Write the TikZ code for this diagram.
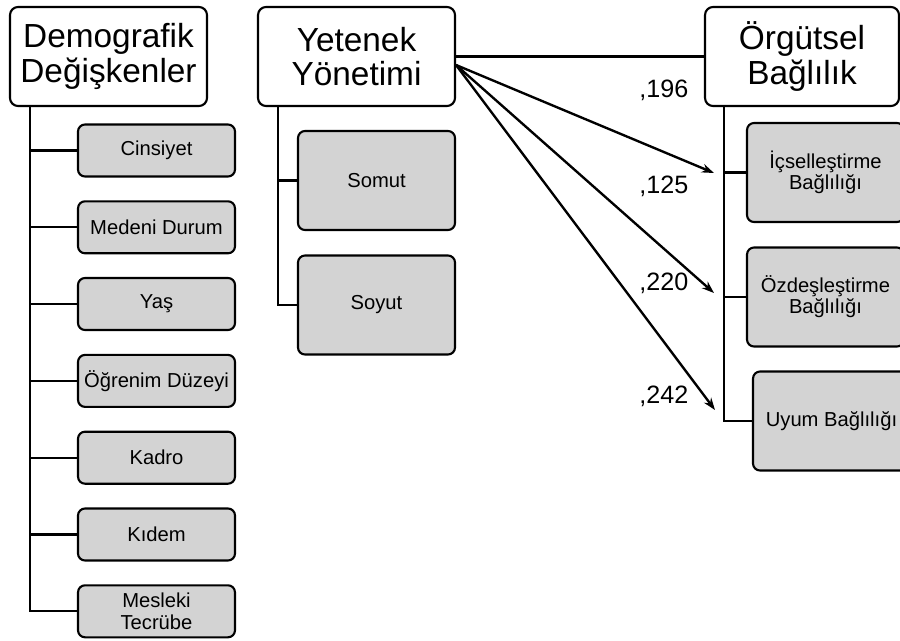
\documentclass[tikz,border=0pt]{standalone}
\usepackage{fontspec}
\setmainfont{Liberation Sans}
\usepackage{xcolor}
\usetikzlibrary{positioning, arrows.meta}
\definecolor{boxgray}{HTML}{D3D3D3}

\begin{document}
\begin{tikzpicture}[
    x=0.02cm, y=-0.02cm,
    headbox/.style={rectangle, rounded corners=0.16cm, draw, line width=1.2pt, fill=white, align=center,
        minimum width=3.94cm, minimum height=1.98cm, inner sep=0pt, font=\fontsize{19}{19.5}\selectfont},
    subbox/.style={rectangle, rounded corners=0.14cm, draw, line width=1.2pt, fill=boxgray, align=center,
        minimum width=3.14cm, minimum height=1.04cm, inner sep=0pt, font=\fontsize{11.5}{12}\selectfont},
    tallbox/.style={subbox, minimum height=1.98cm},
    link/.style={line width=1.35pt},
    effect/.style={link, -{Stealth[length=7pt, width=5pt]}},
    coef/.style={anchor=base west, inner sep=0pt, font=\fontsize{14.3}{16}\selectfont}
]
\useasboundingbox (0,0) rectangle (900,640);

% Main boxes
\node[headbox] (demo) at (108.5,56.5) {Demografik\\Değişkenler};
\node[headbox] (yet) at (356.5,56.5) {Yetenek\\Yönetimi};
\node[headbox, minimum width=3.88cm] (org) at (802,56.5) {Örgütsel\\Bağlılık};

% Demographic variables
\node[subbox] (cins) at (156.5,150.5) {Cinsiyet};
\node[subbox] (medeni) at (156.5,227.3) {Medeni Durum};
\node[subbox] (yas) at (156.5,304) {Yaş};
\node[subbox] (ogrenim) at (156.5,380.9) {Öğrenim Düzeyi};
\node[subbox] (kadro) at (156.5,457.7) {Kadro};
\node[subbox] (kidem) at (156.5,534.5) {Kıdem};
\node[subbox] (mesleki) at (156.5,611.3) {Mesleki\\Tecrübe};

% Talent management dimensions
\node[tallbox] (somut) at (376.5,180.5) {Somut};
\node[tallbox] (soyut) at (376.5,305) {Soyut};

% Commitment dimensions
\node[tallbox] (icsel) at (825.5,172.5) {İçselleştirme\\Bağlılığı};
\node[tallbox] (ozdes) at (825.5,297) {Özdeşleştirme\\Bağlılığı};
\node[tallbox] (uyum) at (831.5,421) {Uyum Bağlılığı};

% Tree lines
\coordinate (dtop) at ([xshift=0.42cm]demo.south west);
\coordinate (ytop) at ([xshift=0.42cm]yet.south west);
\coordinate (otop) at ([xshift=0.40cm]org.south west);

\draw[link] (dtop) |- (cins.west);
\draw[link] (dtop) |- (medeni.west);
\draw[link] (dtop) |- (yas.west);
\draw[link] (dtop) |- (ogrenim.west);
\draw[link] (dtop) |- (kadro.west);
\draw[link] (dtop) |- (kidem.west);
\draw[link] (dtop) |- (mesleki.west);

\draw[link] (ytop) |- (somut.west);
\draw[link] (ytop) |- (soyut.west);

\draw[link] (otop) |- (icsel.west);
\draw[link] (otop) |- (ozdes.west);
\draw[link] (otop) |- (uyum.west);

% Effects
\draw[link] (yet.east) -- (org.west);
\coordinate (src) at ([yshift=-0.17cm]yet.east);
\coordinate (t1) at (714,173);
\coordinate (t2) at (714,293);
\coordinate (t3) at (715,410);
\draw[effect] (src) -- (t1);
\draw[effect] (src) -- (t2);
\draw[effect] (src) -- (t3);

% Coefficients
\node[coef] (c1) at (639,97) {,196};
\node[coef] (c2) at (639,193) {,125};
\node[coef] (c3) at (639,290) {,220};
\node[coef] (c4) at (639,403) {,242};

\end{tikzpicture}
\end{document}
